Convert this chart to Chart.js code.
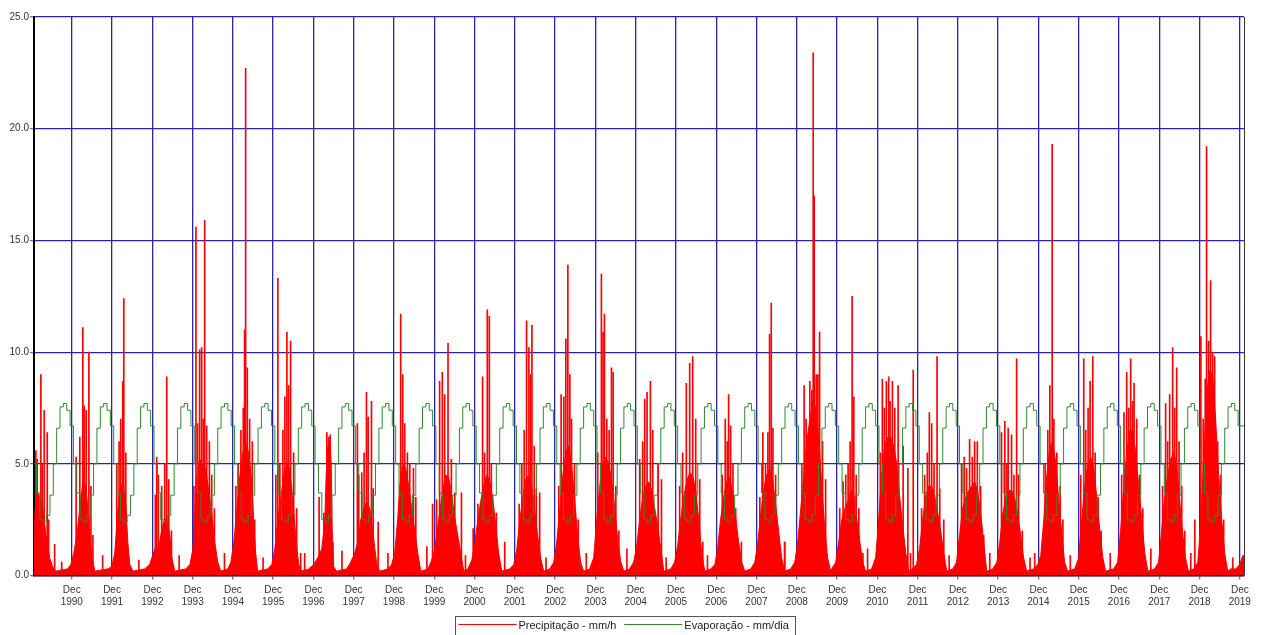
<!DOCTYPE html>
<html lang="pt">
<head>
<meta charset="utf-8">
<title>Precipitação e Evaporação 1990-2019</title>
<script src="https://cdn.jsdelivr.net/npm/chart.js@4.4.1/dist/chart.umd.min.js"></script>
<style>
  html, body { margin: 0; padding: 0; background: #fff; }
</style>
</head>
<body>
<canvas id="chart" width="1262" height="635"></canvas>
<script>
// x values are months counted from 1 Jan 1990 (0 .. 360)
const tickYears = [1990, 1991, 1992, 1993, 1994, 1995, 1996, 1997, 1998, 1999,
  2000, 2001, 2002, 2003, 2004, 2005, 2006, 2007, 2008, 2009,
  2010, 2011, 2012, 2013, 2014, 2015, 2016, 2017, 2018, 2019];

// evaporação média mensal (mm/dia), Jan..Dez, igual todos os anos
const evapMonthly = [5.0, 3.7, 2.5, 2.4, 2.7, 3.6, 5.0, 6.6, 7.55, 7.7, 7.4, 6.7];

// corpo das estações chuvosas [mês, mm/h]
const precipBody = [
  [0.0,0.8],[0.6,3.0],[1.1,3.8],[2.0,3.5],[2.9,3.0],[3.5,2.2],[4.1,1.5],[4.9,0.8],[5.8,0.4],[6.7,0.2],
  [10.3,0.3],[11.2,0.5],[12.1,1.0],[13.0,1.8],[13.9,3.0],[14.8,4.2],[15.7,4.0],[16.3,3.0],[16.9,1.8],[17.5,0.8],[18.4,0.2],
  [22.2,0.3],[23.4,0.4],[24.3,1.0],[25.2,2.8],[25.8,3.8],[26.7,4.2],[27.6,3.2],[28.2,1.5],[28.8,0.5],[29.7,0.2],
  [33.2,0.3],[34.7,0.5],[35.6,0.9],[36.5,1.3],[37.4,1.2],[38.0,1.8],[38.9,2.4],[39.8,2.6],[40.7,1.8],[41.3,0.8],[42.2,0.2],
  [45.5,0.3],[46.7,0.5],[47.6,1.2],[48.2,3.0],[48.8,4.5],[49.6,5.2],[50.5,5.0],[51.4,4.8],[52.3,3.8],[53.2,2.8],[54.1,1.5],[55.0,0.6],[55.9,0.2],
  [58.0,0.3],[58.9,0.6],[59.8,1.5],[60.7,3.0],[61.6,4.5],[62.5,5.5],[63.3,6.0],[64.2,5.5],[65.1,4.2],[65.7,2.5],[66.3,1.0],[66.9,0.2],
  [69.9,0.3],[71.1,0.5],[72.0,1.2],[72.9,2.5],[73.8,3.5],[74.7,4.5],[75.6,5.0],[76.4,4.8],[77.3,3.5],[78.2,1.8],[79.1,0.5],[80.0,0.2],
  [82.1,0.3],[83.6,0.5],[84.8,0.8],[86.0,1.2],[86.9,2.5],[87.3,4.5],[87.8,5.8],[88.4,6.0],[88.8,5.0],[89.1,2.0],[89.5,0.4],[90.4,0.2],
  [93.4,0.3],[94.6,0.6],[95.8,1.0],[96.7,1.5],[97.6,2.5],[98.5,3.0],[99.4,3.3],[100.3,3.0],[101.2,2.0],[101.8,1.2],[102.4,0.5],[103.3,0.2],
  [105.7,0.3],[106.8,0.5],[107.7,1.0],[108.6,2.5],[109.2,4.0],[110.1,5.0],[111.0,4.8],[111.9,4.0],[112.8,3.0],[113.7,2.0],[114.6,1.0],[115.5,0.2],
  [117.6,0.3],[118.5,0.6],[119.4,1.0],[120.2,1.8],[121.1,2.8],[122.0,3.8],[122.9,4.5],[123.8,4.4],[124.7,3.6],[125.6,2.6],[126.5,1.8],[127.4,1.0],[128.3,0.2],
  [129.5,0.3],[130.7,0.7],[131.6,1.5],[132.5,2.5],[133.3,3.3],[134.2,4.0],[135.1,4.5],[136.0,4.3],[136.9,3.5],[137.8,2.3],[138.7,1.0],[139.6,0.2],
  [142.0,0.3],[143.2,0.5],[144.1,1.2],[145.0,2.5],[145.9,3.5],[146.7,4.3],[147.6,4.5],[148.5,4.0],[149.4,3.0],[150.3,1.8],[151.2,0.8],[152.1,0.2],
  [153.9,0.3],[155.1,0.6],[156.0,1.5],[156.9,3.0],[157.8,4.5],[158.7,5.5],[159.6,5.8],[160.4,5.0],[161.3,3.5],[162.2,1.8],[163.1,0.6],[164.0,0.2],
  [165.8,0.3],[167.0,0.8],[167.9,2.5],[168.8,4.0],[169.7,5.0],[170.6,5.3],[171.5,5.0],[172.4,4.2],[173.3,3.0],[174.2,1.5],[175.1,0.6],[176.0,0.2],
  [177.7,0.3],[178.9,0.6],[179.8,1.3],[180.7,2.5],[181.6,3.5],[182.5,4.0],[183.4,4.2],[184.3,3.8],[185.2,3.0],[186.1,2.2],[187.0,1.2],[187.9,0.2],
  [190.0,0.3],[191.1,0.6],[192.0,1.3],[192.9,2.5],[193.8,3.5],[194.7,4.2],[195.6,4.6],[196.5,4.5],[197.4,3.8],[198.3,2.5],[199.2,1.0],[200.1,0.2],
  [201.9,0.3],[203.1,0.5],[203.9,1.2],[204.8,2.5],[205.7,3.5],[206.6,4.2],[207.5,4.4],[208.4,3.8],[209.3,2.6],[210.2,1.5],[211.1,0.6],[212.0,0.2],
  [213.8,0.3],[215.0,0.6],[215.9,1.5],[216.8,2.8],[217.6,3.8],[218.5,4.5],[219.4,4.8],[220.3,4.3],[221.2,3.2],[222.1,2.0],[223.0,0.8],[223.9,0.2],
  [225.7,0.3],[226.9,0.6],[227.8,1.5],[228.7,3.0],[229.6,4.5],[230.5,6.0],[231.4,7.0],[232.3,7.8],[233.2,7.5],[234.1,6.0],[235.0,4.0],[235.8,2.2],[236.7,0.8],[237.6,0.2],
  [237.9,0.3],[239.1,0.6],[240.0,1.5],[240.9,2.5],[241.8,3.0],[242.7,3.3],[243.6,3.8],[244.5,3.6],[245.4,2.5],[246.3,1.5],[247.2,0.6],[248.0,0.2],
  [249.8,0.3],[251.0,0.8],[251.9,2.5],[252.8,4.5],[253.7,5.8],[254.6,6.2],[255.5,6.2],[256.4,5.8],[257.3,5.0],[258.2,3.5],[259.1,2.2],[260.0,1.0],[260.9,0.2],
  [262.0,0.3],[263.2,0.5],[264.1,1.2],[265.0,2.5],[265.9,3.5],[266.8,4.0],[267.7,4.0],[268.6,3.5],[269.5,2.8],[270.4,2.0],[271.3,1.0],[272.2,0.2],
  [274.0,0.3],[275.1,0.6],[276.0,1.8],[276.9,3.0],[277.8,3.5],[278.7,3.8],[279.6,4.0],[280.5,4.2],[281.4,3.8],[282.3,2.8],[283.2,1.5],[284.1,0.2],
  [285.9,0.3],[287.1,0.6],[288.0,1.5],[288.9,2.8],[289.8,3.5],[290.7,3.8],[291.6,3.8],[292.4,3.5],[293.3,2.8],[294.2,1.8],[295.1,0.8],[296.0,0.2],
  [298.1,0.3],[299.3,0.5],[300.2,0.9],[301.1,2.5],[302.0,4.5],[302.9,5.8],[303.8,6.0],[304.7,5.0],[305.5,3.5],[306.4,2.0],[307.3,0.6],[308.2,0.2],
  [310.3,0.3],[311.5,0.8],[312.4,2.5],[313.3,4.0],[314.2,5.0],[315.1,5.3],[316.0,4.8],[316.9,3.5],[317.8,2.0],[318.7,0.8],[319.5,0.2],
  [321.9,0.3],[323.1,0.6],[324.0,2.0],[324.9,4.0],[325.8,5.5],[326.7,6.5],[327.6,6.5],[328.5,5.5],[329.4,4.0],[330.3,2.5],[331.2,1.0],[332.1,0.2],
  [334.1,0.3],[335.3,0.6],[336.2,2.0],[337.1,3.5],[338.0,4.5],[338.9,5.2],[339.8,5.5],[340.7,5.0],[341.5,3.5],[342.4,2.0],[343.3,0.8],[344.2,0.2],
  [345.8,0.3],[347.0,0.6],[347.9,2.5],[348.8,5.5],[349.6,8.0],[350.5,9.2],[351.4,9.0],[352.3,7.0],[353.2,4.5],[354.1,2.5],[355.0,1.0],[355.9,0.2],
  [356.8,0.3],[358.3,0.3],[359.5,0.5],[360.4,0.9],[360.75,0.9],
];

// picos diários de chuva [mês, mm/h]
const precipPeaks = [
  [0.8,5.6],[1.2,5.2],[2.3,9.0],[2.7,5.0],[3.3,7.4],[4.2,6.4],[4.6,2.5],[6.4,1.4],
  [12.8,5.3],[13.9,6.2],[14.8,11.1],[15.2,7.6],[15.8,7.4],[16.6,10.0],[17.2,4.0],[17.8,1.8],
  [24.9,5.0],[25.6,6.0],[26.1,7.0],[26.7,8.7],[27.0,12.4],[27.6,5.5],
  [36.4,3.6],[36.8,5.3],[37.3,4.5],[38.3,4.0],[39.2,5.0],[39.8,8.9],[40.4,4.3],[41.2,2.0],
  [47.9,4.0],[48.5,15.6],[49.0,6.8],[49.6,10.1],[50.2,10.2],[50.7,7.0],[51.1,15.9],[51.7,6.7],[52.5,6.0],[53.2,4.5],[54.0,3.0],
  [60.4,4.0],[61.1,5.0],[61.9,6.5],[62.6,7.5],[63.0,11.0],[63.3,22.7],[63.8,9.3],[64.5,7.0],[65.3,6.0],[66.0,2.5],
  [72.3,4.5],[72.9,13.3],[73.5,5.0],[74.4,6.5],[75.0,8.0],[75.6,10.9],[76.1,8.5],[76.7,10.5],[77.6,5.5],[78.5,3.0],[79.7,1.0],
  [85.2,3.5],[86.6,2.8],[87.5,6.4],[88.1,6.2],[88.5,6.3],[89.3,1.5],
  [96.6,6.8],[97.0,4.5],[97.9,4.6],[98.6,5.5],[99.3,8.2],[99.8,7.1],[100.8,7.8],[101.3,3.9],[102.8,2.4],
  [109.5,11.7],[110.1,9.0],[110.7,6.8],[111.5,5.5],[112.2,5.0],[113.3,4.8],[114.0,3.5],
  [119.0,3.2],[120.2,3.4],[121.1,8.7],[121.9,9.1],[122.6,8.1],[123.6,10.4],[124.6,5.2],[125.6,3.7],[127.6,3.7],
  [131.1,2.1],[132.5,3.2],[133.9,8.9],[134.5,5.5],[135.3,11.9],[135.9,11.6],[136.5,5.0],[138.0,2.8],
  [144.8,3.2],[145.6,5.0],[146.3,6.5],[147.0,11.4],[147.7,10.2],[148.2,9.0],[148.6,11.2],[149.3,5.8],[149.9,3.9],[150.9,3.7],
  [156.6,4.0],[157.3,8.1],[158.1,8.0],[158.7,10.6],[159.3,13.9],[159.9,9.0],[160.4,7.0],[161.3,5.0],[162.4,2.5],
  [168.2,5.5],[169.3,13.5],[169.8,10.9],[170.2,11.7],[170.9,7.0],[171.6,6.5],[172.3,9.3],[172.8,9.1],[173.6,4.0],[174.5,2.0],
  [180.7,5.2],[181.6,6.0],[182.2,7.9],[182.9,8.2],[183.9,8.7],[184.6,6.5],[186.2,5.0],[187.2,4.3],
  [192.6,4.0],[193.5,5.5],[194.6,8.6],[195.6,9.5],[196.5,9.8],[197.4,7.0],[198.6,4.3],[199.5,1.5],
  [205.3,4.5],[206.2,7.0],[206.8,6.0],[207.2,8.1],[207.8,6.7],[208.5,5.0],[209.3,3.0],[211.0,1.5],
  [216.5,3.5],[217.4,6.4],[218.2,5.0],[218.9,6.4],[219.4,10.8],[219.9,12.2],[220.4,6.6],[221.2,4.5],[223.9,1.5],
  [229.0,5.0],[229.7,8.5],[230.3,7.0],[231.4,8.7],[232.0,8.3],[232.4,23.4],[232.7,17.0],[233.3,9.0],[233.8,9.0],[234.3,10.9],[235.2,6.0],[236.1,4.3],
  [240.3,3.0],[241.3,4.2],[242.1,4.5],[242.8,5.0],[243.4,6.0],[244.0,12.5],[244.5,8.0],[245.2,4.5],[246.0,3.0],[247.2,1.0],
  [252.4,5.5],[253.0,8.8],[253.6,7.5],[254.2,8.7],[254.9,8.9],[255.3,7.8],[256.0,8.7],[256.7,7.5],[257.7,8.5],[259.2,5.8],[260.6,4.8],[262.2,9.2],
  [264.7,3.0],[265.6,4.5],[266.4,5.5],[267.0,7.3],[267.7,6.8],[268.4,5.0],[269.3,9.8],[270.1,3.9],[271.3,2.5],
  [276.6,5.0],[277.4,5.3],[278.1,4.8],[279.0,6.1],[279.8,5.3],[280.5,6.0],[281.3,6.0],[282.3,4.0],[283.2,1.8],
  [288.5,6.4],[289.5,6.9],[290.1,5.0],[290.5,6.6],[291.5,6.3],[292.2,4.5],[293.0,9.7],[293.6,4.5],[294.7,2.0],
  [298.4,1.0],[301.5,5.0],[302.3,6.5],[302.9,8.5],[303.6,19.3],[304.1,7.0],[305.0,5.5],[306.0,4.0],[306.8,2.5],
  [312.1,4.5],[313.0,9.7],[313.6,6.5],[314.3,7.5],[314.9,8.7],[315.7,9.8],[316.4,5.5],[317.3,3.5],[318.2,2.0],
  [324.3,4.5],[325.0,7.3],[325.8,9.1],[326.4,7.5],[327.0,9.7],[327.6,7.8],[328.0,8.6],[328.8,7.0],[329.7,4.5],[330.6,3.0],
  [336.5,4.0],[337.4,7.7],[338.0,6.0],[338.6,8.1],[339.5,10.2],[340.1,7.5],[340.7,9.3],[341.4,6.0],[342.2,4.0],[343.1,2.0],
  [346.1,2.5],[347.9,10.7],[348.6,7.0],[349.2,8.8],[349.6,19.2],[350.2,10.5],[350.8,13.2],[351.4,10.0],[352.0,9.8],[352.9,6.0],[353.8,4.5],[354.7,2.5],
  [357.4,0.8],
];

// chuvas isoladas na estação seca [mês, mm/h]
const dryPeaks = [
  [8.5,0.6],[20.7,0.9],[31.5,0.7],[43.5,0.9],[57.0,1.0],[68.5,0.8],[80.9,1.0],[92.0,1.1],
  [105.7,1.0],[117.3,1.3],[128.8,0.9],[140.5,1.5],[152.8,0.8],[164.8,1.0],[176.9,1.2],[188.6,0.8],
  [200.9,0.9],[223.9,1.5],[248.6,1.2],[261.4,1.0],[272.9,0.9],[285.0,1.0],[297.0,0.8],[309.0,0.9],
  [320.9,1.0],[333.0,1.2],[344.9,1.0],
];

const RED = "#ff0000";
const GREEN = "#2f8a2f";
const GRID_BLUE = "#2626ad";
const TEXT = "#333";
const FONT = { family: "'Liberation Sans', Arial, sans-serif", size: 10 };

const $ = (id) => document.getElementById(id);
const toXY = ([x, y]) => ({ x, y });

// mid-December of each labelled year
const tickMonths = tickYears.map((y) => (y - 1990) * 12 + 11.5);

const evapPoints = [];
for (let m = 0; m < tickYears.length * 12; m++) {
  evapPoints.push({ x: m, y: evapMonthly[m % 12] });
}
evapPoints.push({ x: 360.75, y: evapMonthly[11] });

const peaks = precipPeaks.concat(dryPeaks).sort((a, b) => a[0] - b[0]).map(toXY);

// ---------- frame + legend box ----------
const framePlugin = {
  id: "frame",
  afterDraw(chart) {
    const { ctx, chartArea: a } = chart;
    ctx.save();
    ctx.strokeStyle = "#333";
    ctx.lineWidth = 1;
    ctx.beginPath();
    ctx.moveTo(Math.round(a.right) + 0.5, a.top);
    ctx.lineTo(Math.round(a.right) + 0.5, a.bottom);
    ctx.stroke();

    const items = chart.data.datasets
      .filter((d) => d.inLegend)
      .sort((p, q) => p.legendIdx - q.legendIdx);
    ctx.font = `11px ${FONT.family}`;
    ctx.textBaseline = "middle";
    const sample = 58, gapIn = 2, gapOut = 8, padL = 3, padR = 7;
    let x = 455.5;
    const top = 616.5, midY = 624.5;
    let total = padL + padR;
    items.forEach((d, i) => {
      total += sample + gapIn + ctx.measureText(d.label).width + (i < items.length - 1 ? gapOut : 0);
    });
    ctx.strokeStyle = "#555";
    ctx.strokeRect(x, top, Math.round(total), 30);
    x += padL;
    items.forEach((d) => {
      ctx.strokeStyle = d.borderColor;
      ctx.beginPath();
      ctx.moveTo(x, midY);
      ctx.lineTo(x + sample, midY);
      ctx.stroke();
      x += sample + gapIn;
      ctx.fillStyle = "#222";
      ctx.fillText(d.label, x, midY + 1);
      x += ctx.measureText(d.label).width + gapOut;
    });
    ctx.restore();
  },
};

new Chart($("chart"), {
  type: "line",
  data: {
    datasets: [
      {
        label: "Evaporação - mm/dia",
        data: evapPoints,
        borderColor: GREEN,
        borderWidth: 1,
        stepped: true,
        pointRadius: 0,
        fill: false,
        order: 0,
        inLegend: true,
        legendIdx: 1,
      },
      {
        type: "bar",
        label: "picos",
        data: peaks,
        backgroundColor: RED,
        barThickness: 1,
        order: 1,
      },
      {
        label: "Precipitação - mm/h",
        data: precipBody.map(toXY),
        borderColor: RED,
        backgroundColor: RED,
        borderWidth: 1,
        pointRadius: 0,
        tension: 0,
        fill: "origin",
        order: 2,
        inLegend: true,
        legendIdx: 0,
      },
    ],
  },
  options: {
    responsive: false,
    animation: false,
    events: [],
    layout: { padding: { top: 17, right: 18, left: 0, bottom: 0 } },
    plugins: { legend: { display: false }, tooltip: { enabled: false } },
    scales: {
      x: {
        type: "linear",
        min: 0.25,
        max: 360.75,
        offset: false,
        afterBuildTicks: (s) => { s.ticks = tickMonths.map((v) => ({ value: v })); },
        afterFit: (s) => { s.height = 59.4; },
        ticks: {
          autoSkip: false,
          maxRotation: 0,
          padding: 5,
          color: TEXT,
          font: FONT,
          callback: (v, i) => ["Dec", String(tickYears[i])],
        },
        grid: { offset: false, color: GRID_BLUE, lineWidth: 1.3, tickColor: "#777", tickLength: 4 },
        border: { color: "#1c1c5c", width: 1.5 },
      },
      y: {
        min: 0,
        max: 25,
        afterFit: (s) => { s.width = 34; },
        ticks: {
          stepSize: 5,
          padding: 1,
          color: TEXT,
          font: FONT,
          callback: (v) => v.toFixed(1),
        },
        grid: { color: GRID_BLUE, lineWidth: 1.3, tickColor: "#777", tickLength: 4 },
        border: { color: "#000", width: 2 },
      },
    },
  },
  plugins: [framePlugin],
});
</script>
</body>
</html>
